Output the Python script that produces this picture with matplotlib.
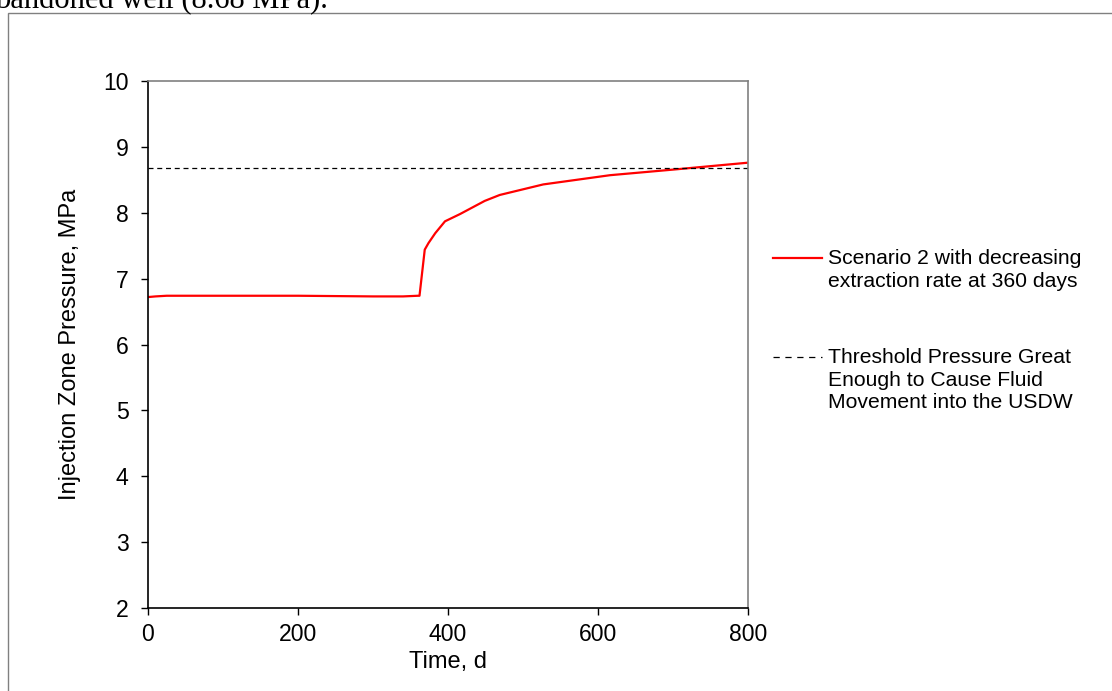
import matplotlib
matplotlib.use("Agg")
import matplotlib.pyplot as plt
from matplotlib.lines import Line2D
from matplotlib.patches import Rectangle

# data
time_d = [0, 10, 25, 100, 200, 300, 340, 360, 362, 369, 374, 383, 396, 416, 449, 469, 527, 616, 705, 800]
pressure = [6.72, 6.73, 6.74, 6.74, 6.74, 6.73, 6.73, 6.74, 6.74, 7.44, 7.54, 7.69, 7.87, 7.98, 8.18, 8.27, 8.43, 8.57, 8.66, 8.76]
threshold = 8.68
x_ticks = [0, 200, 400, 600, 800]
y_ticks = [2, 3, 4, 5, 6, 7, 8, 9, 10]

label_scenario = "Scenario 2 with decreasing\nextraction rate at 360 days"
label_threshold = "Threshold Pressure Great\nEnough to Cause Fluid\nMovement into the USDW"

plt.rcParams['font.family'] = ['Liberation Sans', 'DejaVu Sans']

W, H = 1112, 691
fig = plt.figure(figsize=(W / 100, H / 100), dpi=100)

def fx(px):
    return px / W

def fy(py):
    return 1 - py / H

# outer frame of the embedded chart
fig.add_artist(Rectangle((fx(8), fy(1000)), fx(1200), fy(13) - fy(1000),
                         transform=fig.transFigure, fill=False,
                         edgecolor='#808080', linewidth=1.0))

# cut-off caption text above the chart
fig.text(fx(-5), fy(8), "bandoned well (8.68 MPa).", family='Liberation Serif',
         fontsize=22, ha='left', va='baseline')

ax = fig.add_axes([fx(148), fy(608), fx(748) - fx(148), fy(81) - fy(608)])
ax.plot(time_d, pressure, color='#ff0000', linewidth=1.6)
ax.axhline(threshold, color='black', linewidth=0.9, dashes=(4, 3))

ax.set_xlim(0, 800)
ax.set_ylim(2, 10)
ax.set_xticks(x_ticks)
ax.set_yticks(y_ticks)
ax.tick_params(direction='out', length=5, width=1, labelsize=16.6, colors='black')
ax.tick_params(axis='y', pad=9)
ax.tick_params(axis='x', pad=5.5)
for side in ['left', 'bottom']:
    ax.spines[side].set_color('black')
    ax.spines[side].set_linewidth(1.2)
for side in ['top', 'right']:
    ax.spines[side].set_color('#808080')
    ax.spines[side].set_linewidth(1.2)

ax.set_xlabel("Time, d", fontsize=17, labelpad=4)
ax.set_ylabel("Injection Zone Pressure, MPa", fontsize=17, labelpad=16)

# legend, handles aligned with the first line of each label
fig.add_artist(Line2D([fx(773), fx(822)], [fy(258), fy(258)], transform=fig.transFigure,
                      color='#ff0000', linewidth=1.6))
fig.text(fx(828), fy(249), label_scenario, fontsize=15.2, ha='left', va='top',
         linespacing=1.3)
fig.add_artist(Line2D([fx(773), fx(822)], [fy(357), fy(357)], transform=fig.transFigure,
                      color='black', linewidth=0.9, dashes=(5, 4.5)))
fig.text(fx(828), fy(348), label_threshold, fontsize=15.2, ha='left', va='top',
         linespacing=1.25)

fig.savefig("out.png", dpi=100)
